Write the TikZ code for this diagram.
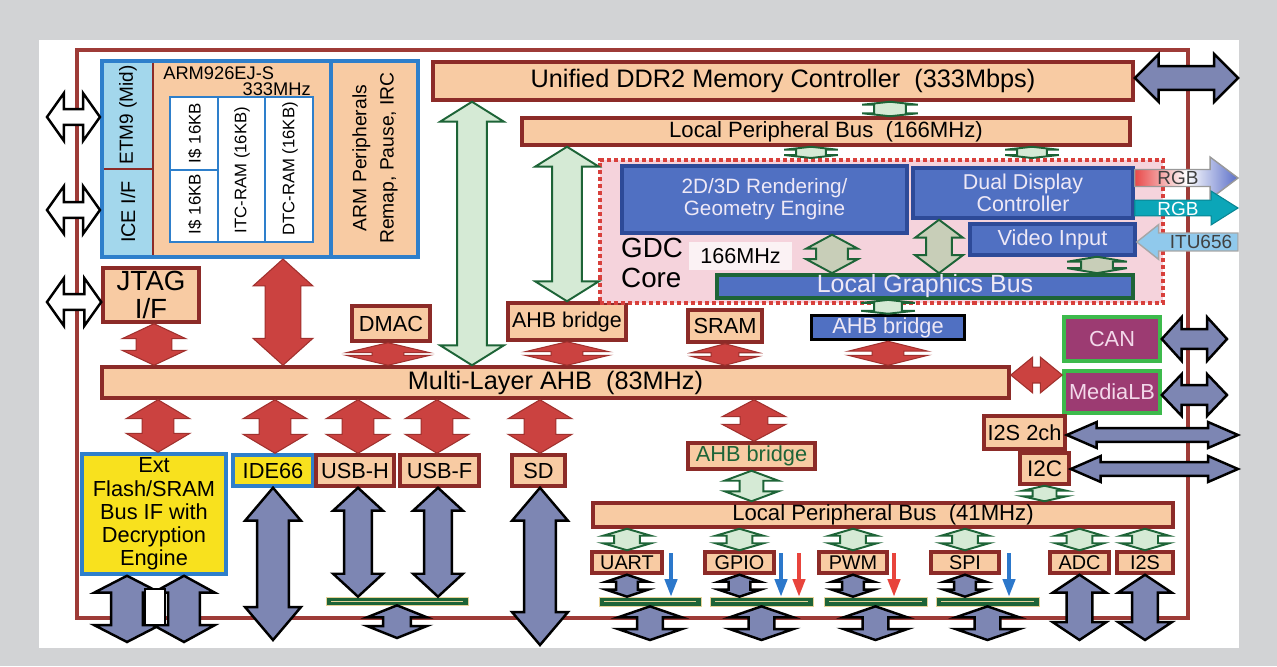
\documentclass[tikz,border=0pt]{standalone}
\usepackage{fontspec}
\setmainfont{Liberation Sans}
\usetikzlibrary{calc,arrows.meta}

\definecolor{bggray}{HTML}{D2D3D5}
\definecolor{chip}{HTML}{9E3B37}
\definecolor{peach}{HTML}{F8CBA3}
\definecolor{bred}{HTML}{8C2B28}
\definecolor{redfill}{HTML}{CB4240}
\definecolor{redline}{HTML}{A0302D}
\definecolor{lgreen}{HTML}{D5EAD5}
\definecolor{dgreen}{HTML}{1D6437}
\definecolor{gdcgray}{HTML}{C8CEB8}
\definecolor{slate}{HTML}{7D86B3}
\definecolor{armblue}{HTML}{2E7FCB}
\definecolor{lblue}{HTML}{A3D7EC}
\definecolor{gblue}{HTML}{5070C2}
\definecolor{gblueline}{HTML}{2D4A98}
\definecolor{gdcpink}{HTML}{F5D3DC}
\definecolor{gdcred}{HTML}{D8403C}
\definecolor{yel}{HTML}{F8E11E}
\definecolor{plum}{HTML}{9C3B72}
\definecolor{cangreen}{HTML}{3DBA4C}
\definecolor{rgbteal}{HTML}{0BA6B8}
\definecolor{itublue}{HTML}{90C9EC}
\definecolor{sigblue}{HTML}{2C78CB}
\definecolor{sigred}{HTML}{E8443C}
\definecolor{barline}{HTML}{E6D298}
\definecolor{lbtext}{HTML}{EEE8F6}
\definecolor{cantext}{HTML}{F3D8EA}
\definecolor{mhzbg}{HTML}{FBF2F4}
\definecolor{gradred}{HTML}{E84A4A}
\definecolor{gradblue}{HTML}{5A6EC8}

\def\pxu{0.5669pt}

% block arrows: [style]{where}{from}{to}
\newcommand\vdarr[4][]{%
  \path[#1] let \p1=(#3), \p2=(#4), \p3=(#2) in
    (\x3-\arS*\pxu,\y1-\arL*\pxu) -- (\x3-\arH*\pxu,\y1-\arL*\pxu) -- (\x3,\y1)
    -- (\x3+\arH*\pxu,\y1-\arL*\pxu) -- (\x3+\arS*\pxu,\y1-\arL*\pxu)
    -- (\x3+\arS*\pxu,\y2+\arL*\pxu) -- (\x3+\arH*\pxu,\y2+\arL*\pxu) -- (\x3,\y2)
    -- (\x3-\arH*\pxu,\y2+\arL*\pxu) -- (\x3-\arS*\pxu,\y2+\arL*\pxu) -- cycle;}
\newcommand\hdarr[4][]{%
  \path[#1] let \p1=(#3), \p2=(#4), \p3=(#2) in
    (\x1+\arL*\pxu,\y3+\arS*\pxu) -- (\x1+\arL*\pxu,\y3+\arH*\pxu) -- (\x1,\y3)
    -- (\x1+\arL*\pxu,\y3-\arH*\pxu) -- (\x1+\arL*\pxu,\y3-\arS*\pxu)
    -- (\x2-\arL*\pxu,\y3-\arS*\pxu) -- (\x2-\arL*\pxu,\y3-\arH*\pxu) -- (\x2,\y3)
    -- (\x2-\arL*\pxu,\y3+\arH*\pxu) -- (\x2-\arL*\pxu,\y3+\arS*\pxu) -- cycle;}
\newcommand\hsarr[4][]{%
  \path[#1] let \p1=(#3), \p2=(#4), \p3=(#2), \n1={(\x2-\x1)/abs(\x2-\x1)*\arL} in
    (\x1,\y3+\arS*\pxu) -- ({\x2-\n1*\pxu},{\y3+\arS*\pxu}) -- ({\x2-\n1*\pxu},{\y3+\arH*\pxu})
    -- (\x2,\y3) -- ({\x2-\n1*\pxu},{\y3-\arH*\pxu}) -- ({\x2-\n1*\pxu},{\y3-\arS*\pxu})
    -- (\x1,\y3-\arS*\pxu) -- cycle;}

\tikzset{
  ashaft/.store in=\arS, ahead/.store in=\arH, alen/.store in=\arL,
  ashaft=15, ahead=30, alen=18,
  sz/.style 2 args={minimum width=#1*0.02cm, minimum height=#2*0.02cm},
  fs/.style={font=\fontsize{#1}{#1}\selectfont},
  box/.style={draw=bred, line width=2pt, fill=peach, inner sep=0pt},
  bluebox/.style={draw=gblueline, line width=2pt, fill=gblue, inner sep=0pt, text=lbtext, align=center},
  busbox/.style={fill=plum, draw=cangreen, line width=2pt, inner sep=0pt, text=cantext},
  redar/.style={fill=redfill, draw=redline, line width=0.6pt},
  grnar/.style={fill=lgreen, draw=dgreen, line width=1.1pt},
  gdcar/.style={fill=gdcgray, draw=dgreen, line width=1.1pt},
  slar/.style={fill=slate, draw=black, line width=1.4pt},
  whar/.style={fill=white, draw=black, line width=1.4pt},
  gbar/.style={fill=dgreen, draw=barline, line width=0.4pt, inner sep=0pt,
    path picture={\draw[barline, line width=0.5pt] ([xshift=3pt]path picture bounding box.west) -- ([xshift=-3pt]path picture bounding box.east);}},
  sig/.style={line width=2pt, -{Triangle[length=10pt, width=7pt]}},
}

\begin{document}
\begin{tikzpicture}[x=0.02cm,y=-0.02cm]
\useasboundingbox (0,0) rectangle (1277,666);
\fill [bggray] (0,0) rectangle (1277,666);
\fill [white] (39,40) rectangle (1239,648);
\draw [chip,line width=2.3pt] (77,50) rectangle (1188,618);

% memory side
\node (ddr) at (783,81) [box,sz={700}{38},fs=14.4] {Unified DDR2 Memory Controller~~(333Mbps)};
\node (lpb) at (826,131.5) [box,sz={608}{27},fs=12.6] {Local Peripheral Bus~~(166MHz)};

% ARM core
\node (arm) at (260,159) [draw=armblue,line width=2.3pt,fill=peach,sz={316}{196}] {};
\fill [lblue] (104,63) rectangle (152,255);
\draw [bred,line width=1.7pt] (104,169) -- (152,169) (153,63) -- (153,255);
\draw [armblue,line width=2.3pt] (331,61) -- (331,257);
\node (etm) at (128,115) [rotate=90,fs=10.8] {ETM9 (Mid)};
\node (ice) at (128,212) [rotate=90,fs=11.3] {ICE I/F};
\node (cpu) at (163,79) [anchor=base west,inner sep=0pt,fs=10.4] {ARM926EJ-S};
\node (cpuhz) at (311,95) [anchor=base east,inner sep=0pt,fs=10.4] {333MHz};
\node (cache) at (241.5,169.5) [draw=armblue,line width=1.7pt,fill=white,sz={143}{145}] {};
\draw [armblue,line width=1.7pt] (218,97) -- (218,242) (265,97) -- (265,242) (170,170) -- (218,170);
\node (icache) at (195,133) [rotate=90,fs=9.6] {I\$ 16KB};
\node (icache2) at (195,204) [rotate=90,fs=9.6] {I\$ 16KB};
\node (itc) at (242,170) [rotate=90,fs=9.5] {ITC-RAM (16KB)};
\node (dtc) at (290,169) [rotate=90,fs=9.5] {DTC-RAM (16KB)};
\node (armper) at (375,158) [rotate=90,fs=11,align=center] {ARM Peripherals\\[4.5pt]Remap, Pause, IRC};

\node (jtag) at (151,295) [box,sz={96}{54},fs=15.8,align=center] {JTAG\\I/F};
\node (dmac) at (391,323.5) [box,sz={78}{35},fs=12.4] {DMAC};
\node (ahbbr1) at (567,321.5) [box,sz={118}{37},fs=12.2] {AHB bridge};
\node (sram) at (725,326) [box,sz={74}{32},fs=12.4] {SRAM};

% GDC core
\node (gdc) at (881.5,231.5) [fill=gdcpink,draw=gdcred,line width=2.3pt,dash pattern=on 2.3pt off 1.7pt,sz={563}{143}] {};
\node (render) at (764.5,199.5) [bluebox,sz={285}{67},fs=11.8] {2D/3D Rendering/\\[0.7pt]Geometry Engine};
\node (ddc) at (1023,193) [bluebox,sz={220}{50},fs=12.2] {Dual Display\\Controller};
\node (vin) at (1052.5,239.5) [bluebox,sz={165}{31},fs=12.4] {Video Input};
\node (gdctxt) at (615,263) [anchor=west,align=left,fs=15.8] {GDC\\[1.5pt]Core};
\node (mhz) at (740.5,256) [fill=mhzbg,sz={103}{28},inner sep=0pt,fs=12.3] {166MHz};
\node (lgb) at (925,286.5) [bluebox,draw=dgreen,sz={416}{23},fs=14.2] {Local Graphics Bus};
\node (ahbbr2) at (888,327.5) [bluebox,draw=black,sz={153}{24},fs=12.4] {AHB bridge};

% AHB and right side
\node (ahb) at (555.5,382.5) [box,sz={907}{31},fs=14.4] {Multi-Layer AHB~~(83MHz)};
\node (can) at (1112,339) [busbox,sz={96}{44},fs=12.4] {CAN};
\node (mlb) at (1112,392) [busbox,sz={96}{42},fs=12.4] {MediaLB};
\node (i2sch) at (1024.5,432.5) [box,sz={81}{33},fs=12.4] {I2S 2ch};
\node (i2c) at (1044.5,468.5) [box,sz={49}{31},fs=12.8] {I2C};
\node (ahbbr3) at (751.5,456) [box,sz={127}{26},fs=12.4,text=dgreen] {AHB bridge};
\node (lpbs) at (883,515) [box,sz={580}{24},fs=12.6] {Local Peripheral Bus~~(41MHz)};

% left bottom
\node (ext) at (154,514) [fill=yel,draw=armblue,line width=2pt,sz={144}{120},inner sep=0pt,align=center,fs=12.4] {Ext\\[0.8pt]Flash/SRAM\\[0.8pt]Bus IF with\\[0.8pt]Decryption\\[0.8pt]Engine};
\node (ide) at (273,470.5) [fill=yel,draw=armblue,line width=2pt,sz={80}{31},inner sep=0pt,fs=12.4] {IDE66};
\node (usbh) at (355,470.5) [box,sz={78}{31},fs=12.4] {USB-H};
\node (usbf) at (439.5,470.5) [box,sz={79}{31},fs=12.4] {USB-F};
\node (sd) at (538.5,470.5) [box,sz={53}{31},fs=12.4] {SD};
\node (usbbar) at (397,601) [gbar,sz={142}{8}] {};

% peripherals
\node (uart) at (627,562.5) [box,sz={70}{21},fs=11.3] {UART};
\node (gpio) at (739.5,562.5) [box,sz={69}{21},fs=11.3] {GPIO};
\node (pwm) at (853,562.5) [box,sz={68}{21},fs=11.3] {PWM};
\node (spi) at (965,562.5) [box,sz={68}{21},fs=11.3] {SPI};
\node (adc) at (1079.5,562.5) [box,sz={59}{21},fs=11.3] {ADC};
\node (i2s) at (1145,562.5) [box,sz={56}{21},fs=11.3] {I2S};
\node (uartbar) at (650,601.5) [gbar,sz={102}{9}] {};
\node (gpiobar) at (761.5,601.5) [gbar,sz={103}{9}] {};
\node (pwmbar) at (875.5,601.5) [gbar,sz={103}{9}] {};
\node (spibar) at (987.5,601.5) [gbar,sz={103}{9}] {};

% free ends
\coordinate (etmin) at (47,117);
\coordinate (icein) at (47,210);
\coordinate (jtagin) at (47,302);
\coordinate (ddrout) at (1238,78);
\coordinate (rgbout) at (1238,178);
\coordinate (rgbout2) at (1238,208);
\coordinate (ituin) at (1238,242);
\coordinate (canout) at (1227,338);
\coordinate (mlbout) at (1227,395);
\coordinate (i2schout) at (1238,435);
\coordinate (i2cout) at (1238,469);
\coordinate (extout) at (155,642);
\coordinate (usbout) at (397,638);
\coordinate (lowend) at (0,640);
\coordinate (lowend2) at (0,645);

% red links
\vdarr[redar,ashaft=18,ahead=32,alen=15]{154,0}{jtag.south}{ahb.north}
\vdarr[redar,ashaft=18,ahead=30,alen=27]{283,0}{arm.south}{ahb.north}
\vdarr[redar,ashaft=16,ahead=42,alen=10]{388,0}{dmac.south}{ahb.north}
\vdarr[redar,ashaft=16,ahead=42,alen=10]{ahbbr1.center}{ahbbr1.south}{ahb.north}
\vdarr[redar,ashaft=14,ahead=34,alen=9]{sram.center}{sram.south}{ahb.north}
\vdarr[redar,ashaft=16,ahead=40,alen=10]{ahbbr2.center}{ahbbr2.south}{ahb.north}
\foreach \tgt/\ax in {ext/158,ide/275,usbh/358,usbf/437,sd/540}
  {\vdarr[redar,ashaft=16,ahead=32,alen=19]{\ax,0}{ahb.south}{\tgt.north}}
\vdarr[redar,ashaft=14,ahead=32,alen=17]{754,0}{ahb.south}{ahbbr3.north}
\hdarr[redar,ashaft=8,ahead=18,alen=22]{0,375}{ahb.east}{mlb.west}

% green links
\vdarr[grnar,ashaft=15,ahead=32,alen=20]{472,0}{ddr.south}{ahb.north}
\vdarr[grnar,ashaft=15,ahead=32,alen=20]{ahbbr1.center}{lpb.south}{ahbbr1.north}
\vdarr[grnar,ashaft=16,ahead=28,alen=3]{890,0}{ddr.south}{lpb.north}
\foreach \ax in {811,1032}
  {\vdarr[grnar,ashaft=15,ahead=27,alen=3]{\ax,0}{lpb.south}{gdc.north}}
\vdarr[grnar,ashaft=14,ahead=27,alen=3]{ahbbr2.center}{lgb.south}{ahbbr2.north}
\vdarr[grnar,ashaft=12,ahead=27,alen=10]{ahbbr3.center}{ahbbr3.south}{lpbs.north}
\vdarr[grnar,ashaft=12,ahead=22,alen=5]{i2c.center}{i2c.south}{lpbs.north}
\foreach \tgt in {uart,gpio,pwm,spi,adc,i2s}
  {\vdarr[grnar,ashaft=13,ahead=24,alen=7]{\tgt.center}{lpbs.south}{\tgt.north}}

% inside GDC
\vdarr[gdcar,ashaft=16,ahead=26,alen=14]{832,0}{render.south}{lgb.north}
\vdarr[gdcar,ashaft=13,ahead=24,alen=18]{939,0}{ddc.south}{lgb.north}
\vdarr[gdcar,ashaft=16,ahead=30,alen=5]{1097,0}{vin.south}{lgb.north}

% external pins
\vdarr[slar,ashaft=16,ahead=33,alen=17]{127,0}{ext.south}{extout}
\vdarr[slar,ashaft=16,ahead=31,alen=17]{184,0}{ext.south}{extout}
\node (extgap) at (155,607) [draw=black,fill=white,line width=1pt,sz={20}{36}] {};
\vdarr[slar,ashaft=16,ahead=28,alen=33]{ide.center}{ide.south}{lowend}
\vdarr[slar,ashaft=14,ahead=25,alen=23]{358,0}{usbh.south}{usbbar.north}
\vdarr[slar,ashaft=14,ahead=25,alen=23]{438,0}{usbf.south}{usbbar.north}
\vdarr[slar,ashaft=14,ahead=30,alen=12]{usbbar.center}{usbbar.south}{usbout}
\vdarr[slar,ashaft=16,ahead=28,alen=33]{540,0}{sd.south}{lowend2}
\foreach \tgt/\br in {uart/uartbar,gpio/gpiobar,pwm/pwmbar,spi/spibar}{
  \vdarr[slar,ashaft=11,ahead=21,alen=7]{\tgt.center}{\tgt.south}{\br.north}
  \vdarr[slar,ashaft=13,ahead=32,alen=11]{\br.center}{\br.south}{lowend}
}
\foreach \tgt in {adc,i2s}
  {\vdarr[slar,ashaft=13,ahead=27,alen=18]{\tgt.center}{\tgt.south}{lowend}}
\hdarr[slar,ashaft=12,ahead=24,alen=24]{0,78}{ddr.east}{ddrout}
\hdarr[slar,ashaft=10,ahead=22,alen=20]{can.center}{can.east}{canout}
\hdarr[slar,ashaft=10,ahead=21,alen=20]{0,395}{mlb.east}{mlbout}
\hdarr[slar,ashaft=7,ahead=13,alen=30]{0,435}{i2sch.east}{i2schout}
\hdarr[slar,ashaft=7,ahead=13,alen=30]{0,469}{i2c.east}{i2cout}
\hdarr[whar,ashaft=8,ahead=24,alen=17]{0,117}{etmin}{arm.west}
\hdarr[whar,ashaft=8,ahead=24,alen=17]{0,210}{icein}{arm.west}
\hdarr[whar,ashaft=8,ahead=24,alen=17]{0,302}{jtagin}{jtag.west}

% video signals
\hsarr[left color=gradred,right color=gradblue,middle color=white,draw=gray!80,line width=0.8pt,ashaft=8.5,ahead=21,alen=28]{0,178}{ddc.east}{rgbout}
\hsarr[fill=rgbteal,draw=rgbteal!80!black,line width=0.6pt,ashaft=8,ahead=17,alen=27]{0,208}{ddc.east}{rgbout2}
\hsarr[fill=itublue,draw=gray!70,line width=0.8pt,ashaft=9,ahead=17.5,alen=22]{0,242}{ituin}{vin.east}
\node (rgbt) at (1178,178) [fs=10.8,text=black!75] {RGB};
\node (rgbt2) at (1178,209) [fs=10.8,text=white] {RGB};
\node (itut) at (1201,242) [fs=10.8,text=black!75] {ITU656};

% pin signals
\coordinate (uartsig) at (671,553);
\coordinate (gpiosig) at (781,553);
\coordinate (gpiosig2) at (799,553);
\coordinate (pwmsig) at (894,553);
\coordinate (spisig) at (1009,553);
\draw [sig,sigblue] (uartsig) -- (uartsig |- uartbar.north);
\draw [sig,sigblue] (gpiosig) -- (gpiosig |- gpiobar.north);
\draw [sig,sigred] (gpiosig2) -- (gpiosig2 |- gpiobar.north);
\draw [sig,sigred] (pwmsig) -- (pwmsig |- pwmbar.north);
\draw [sig,sigblue] (spisig) -- (spisig |- spibar.north);
\end{tikzpicture}
\end{document}
